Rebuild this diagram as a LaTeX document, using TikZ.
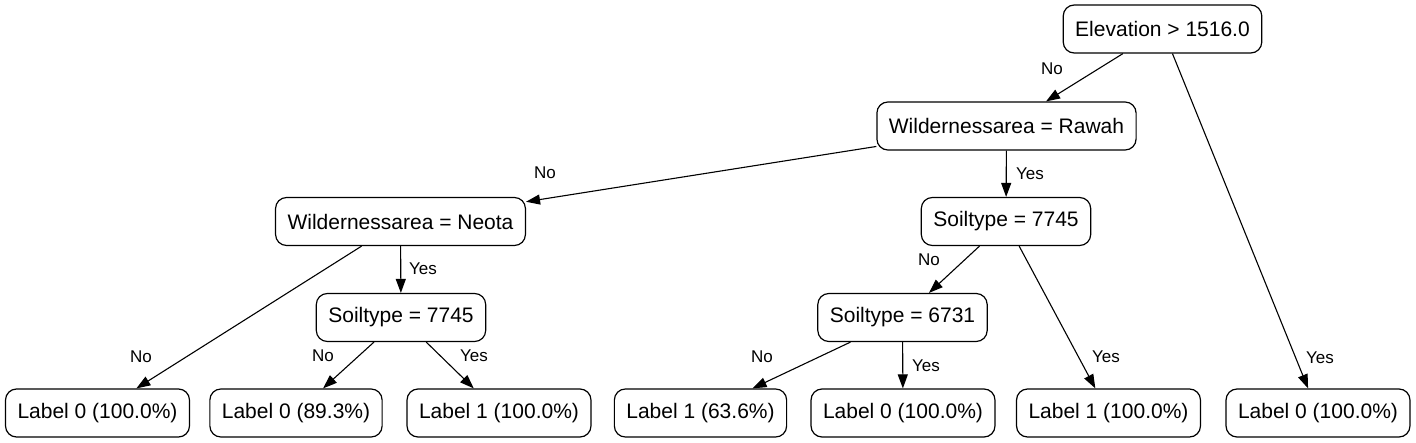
\documentclass[tikz,border=0pt]{standalone}
\usepackage{fontspec}
\setmainfont{Liberation Sans}
\usetikzlibrary{arrows.meta}
\tikzset{
  box/.style={draw, line width=1.2pt, rounded corners=11pt, minimum height=48pt, inner xsep=12pt, font=\fontsize{21}{25}\selectfont},
  conn/.style={line width=1.1pt, -{Triangle[length=14pt,width=10pt]}},
  elab/.style={font=\fontsize{17}{20}\selectfont, inner sep=0pt}
}
\begin{document}
\begin{tikzpicture}[x=1pt,y=-1pt]
\useasboundingbox (0,0) rectangle (1416,443);
\node[box] (root) at (1162.5,29) {Elevation > 1516.0};
\node[box] (rawah) at (1006.5,126) {Wildernessarea = Rawah};
\node[box] (neota) at (400.5,221.5) {Wildernessarea = Neota};
\node[box] (sr) at (1006,221.5) {Soiltype = 7745};
\node[box] (sl) at (401,317.5) {Soiltype = 7745};
\node[box] (s6) at (902.5,317.5) {Soiltype = 6731};
\node[box] (l1) at (97.5,413) {Label 0 (100.0\%)};
\node[box] (l2) at (296,413) {Label 0 (89.3\%)};
\node[box] (l3) at (499,413) {Label 1 (100.0\%)};
\node[box] (l4) at (700.5,413) {Label 1 (63.6\%)};
\node[box] (l5) at (903,413) {Label 0 (100.0\%)};
\node[box] (l6) at (1108.5,413) {Label 1 (100.0\%)};
\node[box] (l7) at (1318,413) {Label 0 (100.0\%)};
\draw[conn] (root) -- (rawah);
\draw[conn] (root) -- (l7);
\draw[conn] (rawah) -- (neota);
\draw[conn] (rawah) -- (sr);
\draw[conn] (neota) -- (l1);
\draw[conn] (neota) -- (sl);
\draw[conn] (sl) -- (l2);
\draw[conn] (sl) -- (l3);
\draw[conn] (sr) -- (s6);
\draw[conn] (sr) -- (l6);
\draw[conn] (s6) -- (l4);
\draw[conn] (s6) -- (l5);
\node[elab] (e1) at (1052,69) {No};
\node[elab] (e2) at (1320,358) {Yes};
\node[elab] (e3) at (545,173) {No};
\node[elab] (e4) at (1030,174) {Yes};
\node[elab] (e5) at (141,357) {No};
\node[elab] (e6) at (423,269) {Yes};
\node[elab] (e7) at (323,356) {No};
\node[elab] (e8) at (474,356) {Yes};
\node[elab] (e9) at (929,260) {No};
\node[elab] (e10) at (1106,357) {Yes};
\node[elab] (e11) at (762,357) {No};
\node[elab] (e12) at (926,366) {Yes};
\end{tikzpicture}
\end{document}
